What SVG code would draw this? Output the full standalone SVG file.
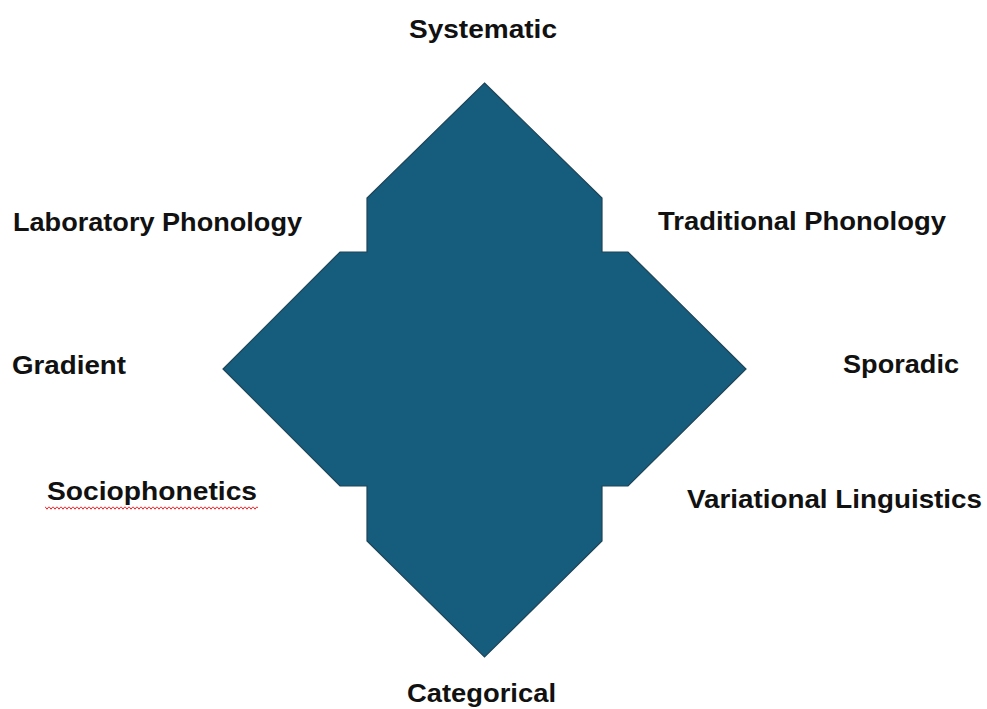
<svg xmlns="http://www.w3.org/2000/svg" width="987" height="709" viewBox="0 0 987 709">
<style>
.lbl{font-family:"Liberation Sans",Arial,sans-serif;font-weight:bold;font-size:26px;fill:#111;}
.shape{fill:#165C7D;stroke:#1d4558;stroke-width:1.2;stroke-linejoin:miter;}
</style>
<defs>
<pattern id="wave" x="45" y="506" width="4" height="4" patternUnits="userSpaceOnUse">
<path d="M0,0.6 L2,3.2 L4,0.6" fill="none" stroke="#e8232a" stroke-width="1"/>
</pattern>
</defs>
<rect width="987" height="709" fill="#ffffff"/>
<g id="diamond">
<polygon class="shape" points="484.5,83 602,198 602,252 628,252 746,369 628,486 602,486 602,541 484.5,657 367,541 367,486 340,486 223,369 340,252 367,252 367,198"/>
</g>
<g id="connectors"></g>
<g id="n-systematic"><text class="lbl" x="409" y="38" textLength="148" lengthAdjust="spacingAndGlyphs">Systematic</text></g>
<g id="n-categorical"><text class="lbl" x="407" y="702" textLength="149" lengthAdjust="spacingAndGlyphs">Categorical</text></g>
<g id="n-laboratory"><text class="lbl" x="13" y="231" textLength="289" lengthAdjust="spacingAndGlyphs">Laboratory Phonology</text></g>
<g id="n-traditional"><text class="lbl" x="658" y="230" textLength="288" lengthAdjust="spacingAndGlyphs">Traditional Phonology</text></g>
<g id="n-gradient"><text class="lbl" x="12" y="374" textLength="114" lengthAdjust="spacingAndGlyphs">Gradient</text></g>
<g id="n-sporadic"><text class="lbl" x="843" y="373" textLength="116" lengthAdjust="spacingAndGlyphs">Sporadic</text></g>
<g id="n-socio"><text class="lbl" x="47" y="500" textLength="210" lengthAdjust="spacingAndGlyphs">Sociophonetics</text>
<rect x="45" y="506" width="213" height="4" fill="url(#wave)"/></g>
<g id="n-variational"><text class="lbl" x="687" y="508" textLength="295" lengthAdjust="spacingAndGlyphs">Variational Linguistics</text></g>
</svg>
